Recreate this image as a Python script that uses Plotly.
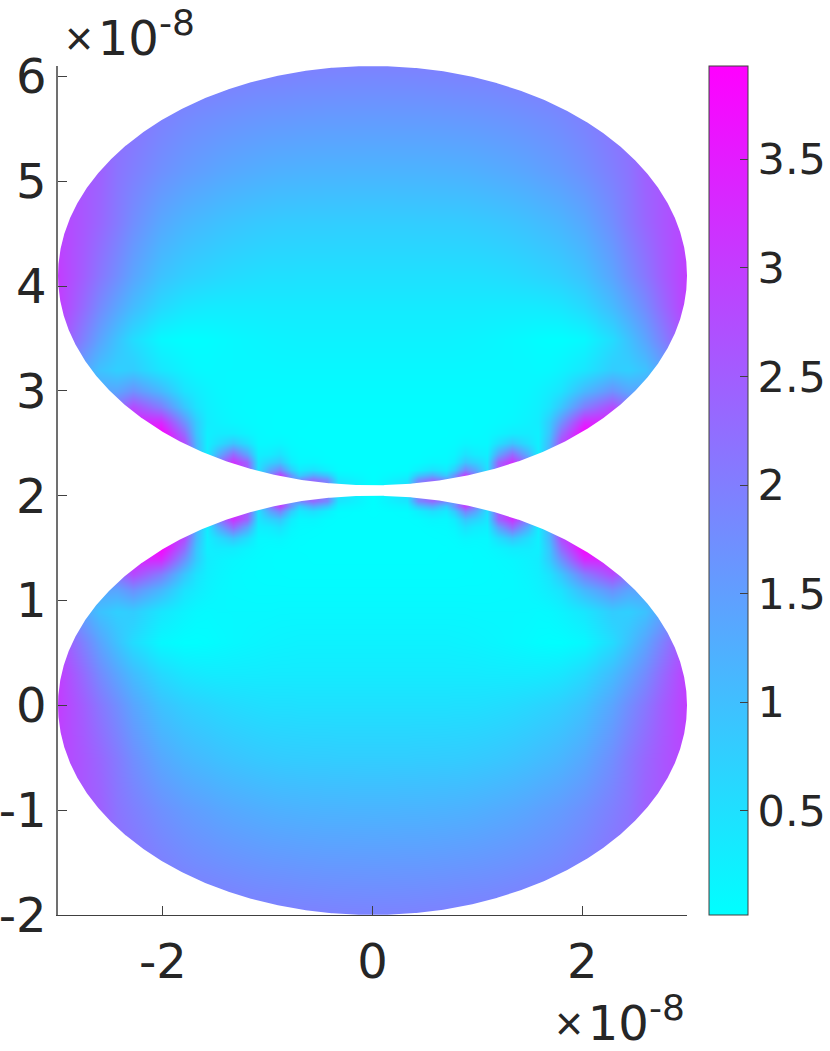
import numpy as np
import plotly.graph_objects as go

# half-plane columns (|x|, units of 1e-8) and rows of the lower lobe (y, units of 1e-8)
x_half = [0, .33, .43, .57, .7, .78, .88, .98, 1.09, 1.2, 1.33, 1.48, 1.58, 1.68, 1.8, 2.02, 2.28, 2.44, 2.6, 2.76, 3]
y_lower = [-2, -1.5, -1, -.5, 0, .3, .6, .9, 1.1, 1.25, 1.4, 1.5, 1.6, 1.7, 1.78, 1.85, 1.9, 1.95, 2]

# field magnitude, one list per row of y_lower
z_m200 = [1.93,1.94,1.95,1.96,1.97,1.98,1.99,2.0,2.0,2.02,2.05,2.08,2.1,2.12,2.15,2.2,2.3,2.4,2.5,2.6,2.8]
z_m150 = [1.55,1.56,1.56,1.57,1.58,1.59,1.6,1.61,1.63,1.65,1.68,1.72,1.75,1.78,1.83,1.95,2.15,2.25,2.35,2.45,2.6]
z_m100 = [1.17,1.18,1.18,1.19,1.2,1.21,1.22,1.24,1.27,1.3,1.34,1.4,1.45,1.5,1.56,1.72,1.98,2.15,2.45,2.6,2.8]
z_m050 = [.78,.78,.79,.79,.8,.8,.81,.83,.85,.88,.92,.98,1.03,1.08,1.15,1.35,1.75,2.05,2.35,2.6,2.9]
z_p000 = [.49,.49,.49,.49,.49,.5,.5,.5,.52,.54,.57,.62,.66,.7,.76,.95,1.4,1.75,2.1,2.5,3.0]
z_p030 = [.33,.33,.33,.33,.33,.33,.33,.33,.32,.32,.32,.32,.33,.36,.4,.6,1.05,1.4,1.8,2.3,3.0]
z_p060 = [.22,.22,.22,.22,.22,.21,.2,.19,.17,.15,.12,.08,.05,.03,.03,.12,.55,.95,1.4,1.95,2.8]
z_p090 = [.13,.13,.13,.13,.13,.13,.13,.12,.12,.12,.12,.12,.1,.12,.2,.4,.8,.75,.95,1.4,2]
z_p110 = [.08,.08,.08,.08,.08,.08,.08,.08,.08,.09,.1,.14,.2,.3,.45,1.1,1.7,1.4,1.4,1.5,2]
z_p125 = [.05,.05,.05,.05,.05,.05,.06,.06,.07,.08,.1,.18,.25,.45,.9,2.0,2.8,2.2,1.8,1.8,2]
z_p140 = [.04,.04,.04,.04,.05,.05,.05,.06,.07,.1,.14,.22,.3,.8,1.7,3.3,3.4,2.5,2,2,2]
z_p150 = [.03,.03,.03,.04,.04,.05,.06,.06,.1,.18,.3,.3,.25,.9,2.3,3.9,3.5,2.5,2,2,2]
z_p160 = [.03,.03,.03,.04,.05,.07,.15,.12,.12,.5,.9,.5,.25,1.1,2.8,3.9,3.5,2.5,2,2,2]
z_p170 = [.03,.03,.04,.06,.08,.15,.45,.3,.25,1.4,2.3,1.2,.3,1.2,3,3.9,3.5,2.5,2,2,2]
z_p178 = [.03,.04,.06,.15,.12,.3,.9,.7,.4,2.4,3.2,2,.4,1.2,3,3.9,3.5,2.5,2,2,2]
z_p185 = [.02,.06,.25,.5,.35,.8,1.9,1.4,.5,2.6,3.3,2,.4,1.2,3,3.9,3.5,2.5,2,2,2]
z_p190 = [.02,.2,.9,1.3,.8,1.6,3,2,.8,2.6,3.3,2,.4,1.2,3,3.9,3.5,2.5,2,2,2]
z_p195 = [.02,.4,1.8,2.3,1.8,1.6,3,2,.8,2.6,3.3,2,.4,1.2,3,3.9,3.5,2.5,2,2,2]
z_p200 = [.02,.5,2,2.5,2,1.6,3,2,.8,2.6,3.3,2,.4,1.2,3,3.9,3.5,2.5,2,2,2]

z_rows = [z_m200, z_m150, z_m100, z_m050, z_p000, z_p030, z_p060, z_p090, z_p110, z_p125,
          z_p140, z_p150, z_p160, z_p170, z_p178, z_p185, z_p190, z_p195, z_p200]

x_ticks = [-2, 0, 2]
x_tick_text = ["-2", "0", "2"]
y_ticks = [-2, -1, 0, 1, 2, 3, 4, 5, 6]
y_tick_text = ["-2", "-1", "0", "1", "2", "3", "4", "5", "6"]
c_ticks = [.5, 1, 1.5, 2, 2.5, 3, 3.5]
c_tick_text = ["0.5", "1", "1.5", "2", "2.5", "3", "3.5"]
z_min, z_max = 0.02, 3.93
exponent_label = ('<span style="font-family:Liberation Sans;font-size:48px">×</span>\u200a10'
                  '<sup><span style="font-size:36px">-8</span></sup>')

# the two lobes: same semi-axes, the upper one is the mirror image of the lower
semi_x, semi_y = 3.0, 2.0
lower_centre, upper_centre = 0.0, 4.1
split = 2.05

half = np.array(z_rows)
full = np.hstack([half[:, :0:-1], half])
xs = [-v for v in x_half[:0:-1]] + x_half
cool = [[0, "rgb(0,255,255)"], [1, "rgb(255,0,255)"]]
TEXT = "#262626"
AXIS = "#404040"
FONT = "DejaVu Sans"

fig = go.Figure()
fig.add_trace(go.Heatmap(
    x=xs, y=y_lower, z=full.tolist(), zsmooth="best", zmin=z_min, zmax=z_max, colorscale=cool,
    hoverinfo="skip",
    colorbar=dict(
        x=(709 - 58) / 629, xanchor="left", xpad=0, y=0.5, yanchor="middle", ypad=0, len=1,
        thickness=39, outlinecolor=AXIS, outlinewidth=1,
        tickmode="array", tickvals=c_ticks, ticktext=c_tick_text,
        ticks="inside", ticklen=8, tickcolor=AXIS, tickwidth=1,
        tickfont=dict(family=FONT, size=43, color=TEXT),
        ticklabelposition="outside",
    ),
))
fig.add_trace(go.Heatmap(
    x=xs, y=[upper_centre - v for v in y_lower[::-1]], z=full[::-1].tolist(), zsmooth="best",
    zmin=z_min, zmax=z_max, colorscale=cool, showscale=False, hoverinfo="skip",
))

# white masks trimming the two fields to their elliptical outlines
t = np.linspace(0, np.pi, 721)
mx, my = [], []
for c, sign, edge in ((lower_centre, 1, split), (lower_centre, -1, -2.6),
                      (upper_centre, 1, 6.7), (upper_centre, -1, split)):
    ex = (semi_x * np.cos(t)).tolist()
    ey = (c + sign * semi_y * np.sin(t)).tolist()
    mx += ex + [-3.2, -3.2, 3.2, 3.2, ex[0], None]
    my += ey + [c, edge, edge, c, ey[0], None]
fig.add_trace(go.Scatter(x=mx, y=my, mode="lines", fill="toself", fillcolor="white",
                         line=dict(width=0, color="white"), hoverinfo="skip", showlegend=False))

axis_style = dict(showgrid=False, zeroline=False, showline=True,
                  ticks="inside", ticklen=9, tickcolor=AXIS, tickwidth=1,
                  tickfont=dict(family=FONT, size=48, color=TEXT), layer="above traces")
fig.update_layout(
    width=830, height=1051, autosize=False, showlegend=False,
    paper_bgcolor="white", plot_bgcolor="white",
    margin=dict(l=58, r=143, t=66, b=136, pad=0, autoexpand=False),
    xaxis=dict(range=[-3, 3], tickmode="array", tickvals=x_ticks, ticktext=x_tick_text,
               ticklabelstandoff=4, linecolor=AXIS, linewidth=1, **axis_style),
    yaxis=dict(range=[-2, 6.1], tickmode="array", tickvals=y_ticks, ticktext=y_tick_text,
               linecolor="#707070", linewidth=1.5, **axis_style),
    annotations=[
        dict(text=exponent_label, xref="paper", yref="paper",
             x=0.008, y=1.0, xanchor="left", yanchor="bottom", showarrow=False, yshift=-2,
             font=dict(family=FONT, size=48, color=TEXT)),
        dict(text=exponent_label, xref="paper", yref="paper",
             x=1.0, y=0, xanchor="right", yanchor="top", yshift=-70, showarrow=False,
             font=dict(family=FONT, size=48, color=TEXT)),
    ],
)
fig.write_html("out.html", config=dict(displayModeBar=False),
               post_script="document.body.style.margin='0';document.documentElement.style.overflow='hidden';")
